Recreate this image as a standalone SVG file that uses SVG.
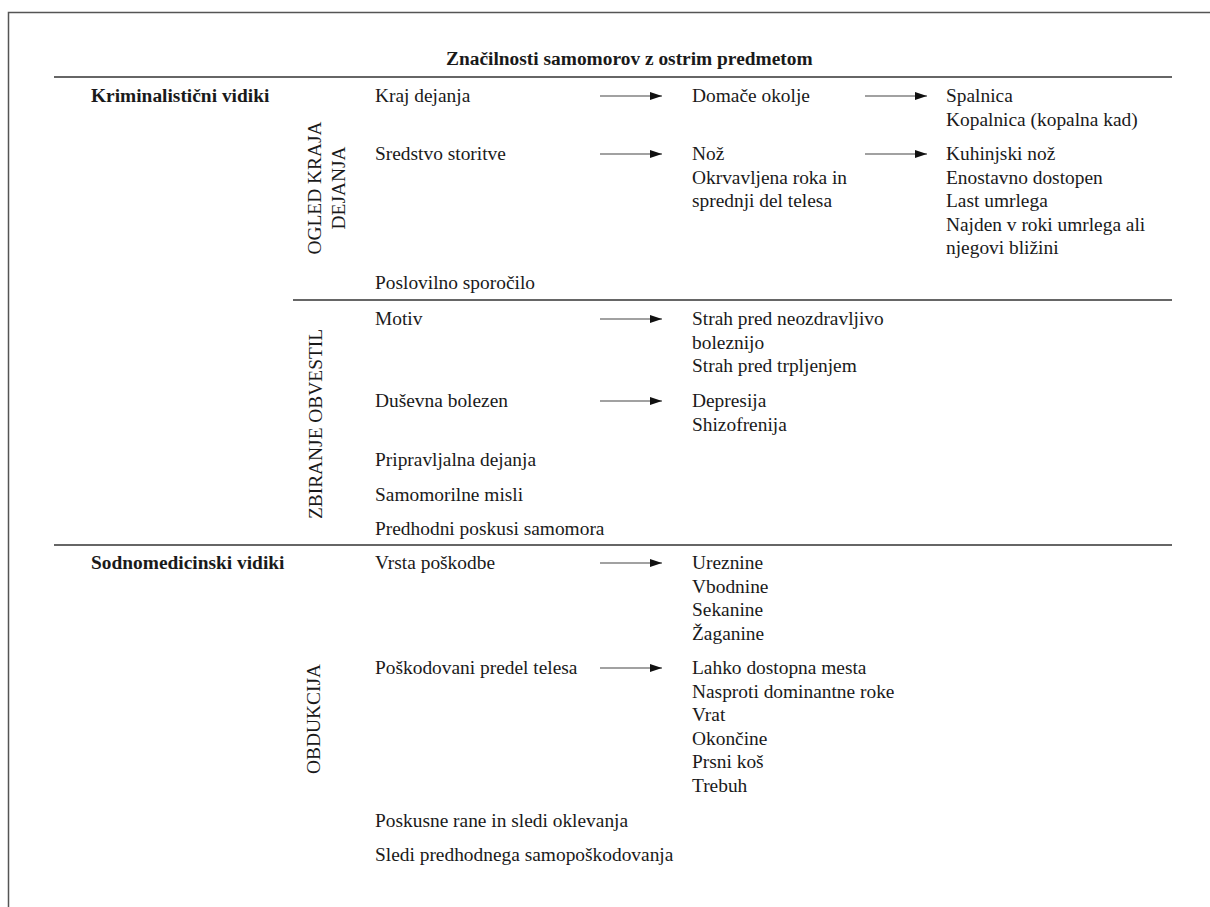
<svg xmlns="http://www.w3.org/2000/svg" width="1210" height="907" viewBox="0 0 1210 907">
<defs>
<marker id="ah" markerWidth="12" markerHeight="8" refX="12" refY="4" orient="auto" markerUnits="userSpaceOnUse">
<path d="M0,0 L12,4 L0,8 Z" fill="#111"/>
</marker>
<style>
text{font-family:"Liberation Serif","Times New Roman",serif;font-size:19.4px;fill:#1a1a1a}
.b{font-weight:bold}
.rule{stroke:#333;stroke-width:1.6;fill:none}
.frame{stroke:#555;stroke-width:1.5;fill:none}
.arr{stroke:#444;stroke-width:1.1;fill:none;marker-end:url(#ah)}
</style>
</defs>
<rect width="1210" height="907" fill="#fff"/>
<path class="frame" d="M8.5,907 V12.5 H1210"/>
<g id="rules">
<line class="rule" x1="54" y1="77" x2="1172" y2="77"/>
<line class="rule" x1="293" y1="300" x2="1172" y2="300"/>
<line class="rule" x1="54" y1="545" x2="1172" y2="545"/>
</g>
<g id="title"><text class="b" x="446" y="65">Značilnosti samomorov z ostrim predmetom</text></g>
<g id="kriminalisticni"><text class="b" x="91" y="102">Kriminalistični vidiki</text></g>
<g id="sodnomedicinski"><text class="b" x="91" y="569">Sodnomedicinski vidiki</text></g>
<g id="ogled">
<text text-anchor="middle" transform="translate(320.5,188) rotate(-90)">OGLED KRAJA</text>
<text text-anchor="middle" transform="translate(344.5,188) rotate(-90)">DEJANJA</text>
</g>
<g id="zbiranje"><text text-anchor="middle" transform="translate(321.5,424) rotate(-90)">ZBIRANJE OBVESTIL</text></g>
<g id="obdukcija"><text text-anchor="middle" transform="translate(319.5,719) rotate(-90)">OBDUKCIJA</text></g>
<g id="kraj"><text x="375" y="102">Kraj dejanja</text></g>
<g id="domace"><text x="692" y="102">Domače okolje</text></g>
<g id="prostor"><text x="946" y="102">Spalnica</text><text x="946" y="125.5">Kopalnica (kopalna kad)</text></g>
<g id="sredstvo"><text x="375" y="160">Sredstvo storitve</text></g>
<g id="noz"><text x="692" y="160">Nož</text><text x="692" y="183.5">Okrvavljena roka in</text><text x="692" y="207">sprednji del telesa</text></g>
<g id="kuhinjski"><text x="946" y="160">Kuhinjski nož</text><text x="946" y="183.5">Enostavno dostopen</text><text x="946" y="207">Last umrlega</text><text x="946" y="230.5">Najden v roki umrlega ali</text><text x="946" y="254">njegovi bližini</text></g>
<g id="poslovilno"><text x="375" y="289">Poslovilno sporočilo</text></g>
<g id="motiv"><text x="375" y="325">Motiv</text></g>
<g id="strah"><text x="692" y="325">Strah pred neozdravljivo</text><text x="692" y="348.5">boleznijo</text><text x="692" y="372">Strah pred trpljenjem</text></g>
<g id="dusevna"><text x="375" y="407">Duševna bolezen</text></g>
<g id="depresija"><text x="692" y="407">Depresija</text><text x="692" y="430.5">Shizofrenija</text></g>
<g id="pripravljalna"><text x="375" y="466">Pripravljalna dejanja</text></g>
<g id="samomorilne"><text x="375" y="500.5">Samomorilne misli</text></g>
<g id="predhodni"><text x="375" y="535">Predhodni poskusi samomora</text></g>
<g id="vrsta"><text x="375" y="569">Vrsta poškodbe</text></g>
<g id="rane"><text x="692" y="569">Ureznine</text><text x="692" y="592.5">Vbodnine</text><text x="692" y="616">Sekanine</text><text x="692" y="639.5">Žaganine</text></g>
<g id="predel"><text x="375" y="674">Poškodovani predel telesa</text></g>
<g id="mesta"><text x="692" y="674">Lahko dostopna mesta</text><text x="692" y="697.5">Nasproti dominantne roke</text><text x="692" y="721">Vrat</text><text x="692" y="744.5">Okončine</text><text x="692" y="768">Prsni koš</text><text x="692" y="791.5">Trebuh</text></g>
<g id="poskusne"><text x="375" y="827">Poskusne rane in sledi oklevanja</text></g>
<g id="sledi"><text x="375" y="861">Sledi predhodnega samopoškodovanja</text></g>
<g id="connectors">
<line class="arr" x1="600" y1="96" x2="662" y2="96"/>
<line class="arr" x1="865" y1="96" x2="927" y2="96"/>
<line class="arr" x1="600" y1="154" x2="662" y2="154"/>
<line class="arr" x1="865" y1="154" x2="927" y2="154"/>
<line class="arr" x1="600" y1="319" x2="662" y2="319"/>
<line class="arr" x1="600" y1="401" x2="662" y2="401"/>
<line class="arr" x1="600" y1="563" x2="662" y2="563"/>
<line class="arr" x1="600" y1="668" x2="662" y2="668"/>
</g>
</svg>
